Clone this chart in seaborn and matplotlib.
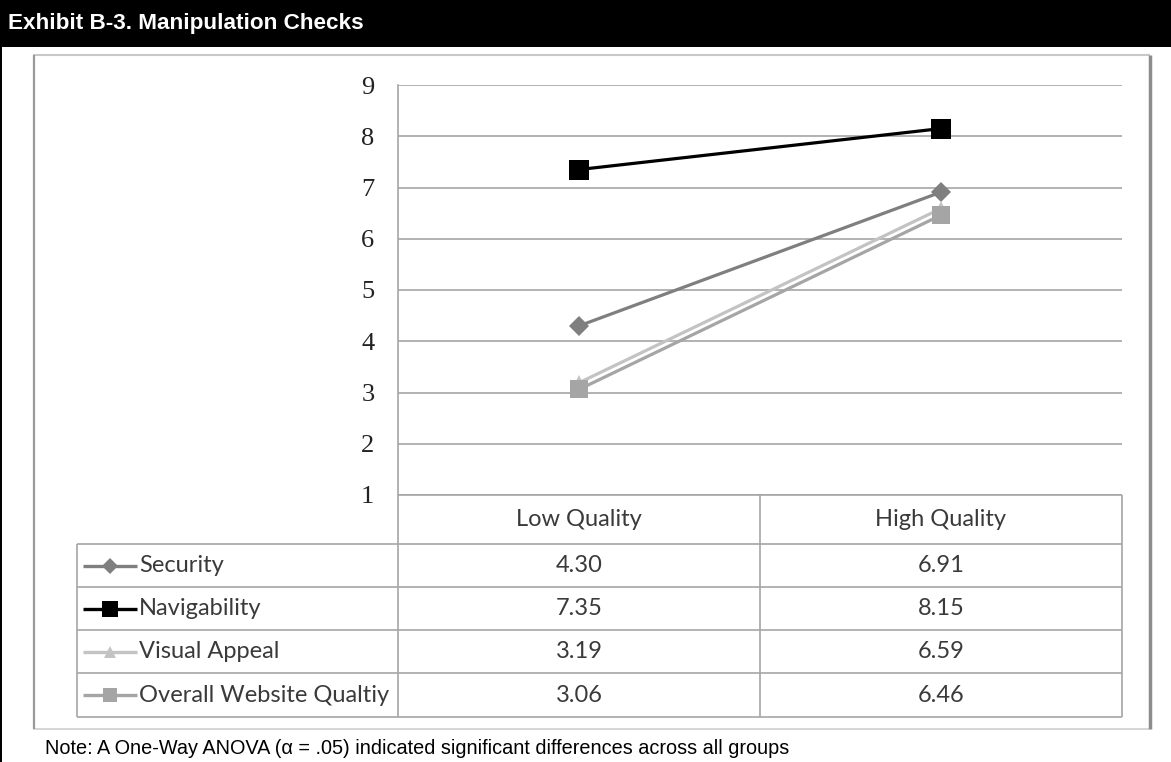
import matplotlib
matplotlib.use('Agg')
import matplotlib.pyplot as plt
from matplotlib.lines import Line2D
from matplotlib.patches import Rectangle
import seaborn as sns
import pandas as pd

# ── Data ────────────────────────────────────────────────────────────
conditions = ['Low Quality', 'High Quality']
measures = ['Security', 'Navigability', 'Visual Appeal', 'Overall Website Qualtiy']
security = [4.30, 6.91]
navigability = [7.35, 8.15]
visual_appeal = [3.19, 6.59]
overall_quality = [3.06, 6.46]
y_ticks = [1, 2, 3, 4, 5, 6, 7, 8, 9]

series = [security, navigability, visual_appeal, overall_quality]
colors = ['#7f7f7f', '#000000', '#c3c3c3', '#a5a5a5']
markers = ['D', 's', '^', 's']
msizes = [10.5, 14.5, 11, 13.5]

df = pd.DataFrame({
    'condition': conditions * len(measures),
    'score': [v for s in series for v in s],
    'measure': [m for m in measures for _ in conditions],
})

sns.set_theme(style='white')

W, H = 1171, 762
fig = plt.figure(figsize=(W / 100, H / 100), dpi=100)
fig.patch.set_facecolor('white')


def fx(x):
    return x / W


def fy(y):
    return 1 - y / H


def hline(x0, x1, y, color='#a6a6a6', lw=1.2):
    fig.add_artist(Line2D([fx(x0), fx(x1)], [fy(y), fy(y)], transform=fig.transFigure,
                          color=color, lw=lw, solid_capstyle='butt'))


def vline(x, y0, y1, color='#a6a6a6', lw=1.2):
    fig.add_artist(Line2D([fx(x), fx(x)], [fy(y0), fy(y1)], transform=fig.transFigure,
                          color=color, lw=lw, solid_capstyle='butt'))


# ── Header bar + outer frame ────────────────────────────────────────
fig.add_artist(Rectangle((0, fy(47)), 1, 47 / H, transform=fig.transFigure,
                         facecolor='black', edgecolor='none'))
fig.add_artist(Rectangle((0, 0), 2 / W, 1, transform=fig.transFigure,
                         facecolor='black', edgecolor='none'))
fig.text(fx(8), fy(24), 'Exhibit B-3. Manipulation Checks', color='white',
         fontsize=16.2, fontweight='bold', family='Liberation Sans', va='center', ha='left')

hline(33, 1150, 55, color='#c8c8c8', lw=1.5)
hline(33, 1150, 729, color='#d0d0d0', lw=1.2)
vline(34, 55, 729, color='#9a9a9a', lw=1.6)
vline(1150, 55, 729, color='#8c8c8c', lw=2.5)

# ── Plot area ───────────────────────────────────────────────────────
px0, px1, py0, py1 = 398, 1122, 85, 495
ax = fig.add_axes([fx(px0), fy(py1), fx(px1 - px0), (py1 - py0) / H])
ax.set_facecolor('white')

for m, c, mk, ms in zip(measures, colors, markers, msizes):
    sns.lineplot(data=df[df['measure'] == m], x='condition', y='score', ax=ax,
                 color=c, marker=mk, markersize=ms, markeredgecolor=c,
                 markeredgewidth=0, linewidth=2.3, legend=False, zorder=3)

ax.set_xlim(-0.5, 1.5)
ax.set_ylim(1, 9)
ax.set_yticks(y_ticks)
ax.set_yticklabels([str(t) for t in y_ticks], family='Liberation Serif',
                   fontsize=19, color='#222222')
ax.tick_params(axis='y', length=0, pad=17)
ax.set_xticks([])
ax.set_xlabel('')
ax.set_ylabel('')
for t in y_ticks:
    ax.axhline(t, color='#a6a6a6', lw=1.2, zorder=1)
for side in ['top', 'right', 'bottom']:
    ax.spines[side].set_visible(False)
ax.spines['left'].set_color('#a6a6a6')
ax.spines['left'].set_linewidth(1.2)

# ── Data table below the chart ──────────────────────────────────────
tx0, c1, c2, tx1 = 77, 398, 760, 1122
row_edges = [495, 544, 587, 630, 673, 717]

hline(c1, tx1, row_edges[0])
for y in row_edges[1:]:
    hline(tx0, tx1, y)
vline(tx0, row_edges[1], row_edges[-1])
for x in [c1, c2, tx1]:
    vline(x, row_edges[0], row_edges[-1])

txt = dict(family='Lato', fontsize=17, color='#3a3a3a', va='center')
centers = [(c1 + c2) / 2, (c2 + tx1) / 2]
for xc, cond in zip(centers, conditions):
    fig.text(fx(xc), fy((row_edges[0] + row_edges[1]) / 2), cond, ha='center', **txt)

for i, (m, s, c, mk, ms) in enumerate(zip(measures, series, colors, markers, msizes)):
    yc = (row_edges[i + 1] + row_edges[i + 2]) / 2
    fig.add_artist(Line2D([fx(83), fx(137)], [fy(yc), fy(yc)], transform=fig.transFigure,
                          color=c, lw=2.4, solid_capstyle='butt'))
    fig.add_artist(Line2D([fx(110)], [fy(yc)], transform=fig.transFigure, color=c,
                          marker=mk, markersize=ms * 0.75, markeredgewidth=0))
    fig.text(fx(139), fy(yc), m, ha='left', **txt)
    for xc, v in zip(centers, s):
        fig.text(fx(xc), fy(yc), f'{v:.2f}', ha='center', **txt)

fig.text(fx(45), fy(748),
         'Note: A One-Way ANOVA (\u03b1 = .05) indicated significant differences across all groups',
         family='Liberation Sans', fontsize=14.3, color='black',
         va='center', ha='left')

fig.savefig('out.png', dpi=100, facecolor='white')
